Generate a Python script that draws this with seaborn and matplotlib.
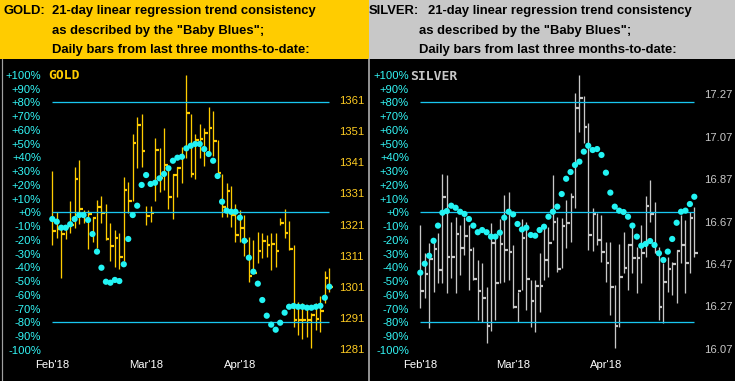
import numpy as np
import pandas as pd
import matplotlib
matplotlib.use("Agg")
import matplotlib.pyplot as plt
import seaborn as sns

# ---------------- data ----------------
months = ["Feb'18", "Mar'18", "Apr'18"]
month_idx = [0, 21, 42]
pct_ticks = list(range(-100, 101, 10))
band_levels = [80, 0, -80]
gold_price_ticks = [1281, 1291, 1301, 1311, 1321, 1331, 1341, 1351, 1361]
silver_price_ticks = [16.07, 16.27, 16.47, 16.67, 16.87, 17.07, 17.27]

gold_high = [1338.2, 1325.0, 1320.9, 1320.9, 1328.6, 1339.4, 1341.7, 1325.7, 1325.7, 1323.4,
             1328.9, 1330.2, 1327.6, 1321.5, 1319.3, 1318.2, 1336.4, 1334.8, 1350.1, 1355.4,
             1356.5, 1327.1, 1327.1, 1348.7, 1345.5, 1351.9, 1339.8, 1337.2, 1339.6, 1345.8,
             1369.0, 1356.5, 1350.1, 1353.3, 1351.9, 1358.7, 1357.6, 1348.2, 1337.2, 1334.3,
             1333.4, 1327.6, 1325.7, 1324.1, 1317.1, 1316.0, 1318.5, 1318.2, 1317.7, 1318.2,
             1318.2, 1323.0, 1326.0, 1322.2, 1314.4, 1296.2, 1295.9, 1294.1, 1292.5, 1295.7,
             1298.1, 1306.1, 1307.0]
gold_low = [1314.4, 1316.7, 1303.8, 1316.4, 1318.3, 1319.9, 1321.2, 1321.5, 1313.1, 1315.5,
            1313.4, 1321.4, 1316.0, 1309.4, 1307.5, 1306.6, 1309.4, 1324.7, 1328.7, 1339.1,
            1339.4, 1320.9, 1321.8, 1328.7, 1331.5, 1332.1, 1325.9, 1322.7, 1329.9, 1334.3,
            1342.3, 1336.4, 1335.5, 1342.5, 1339.9, 1344.7, 1343.0, 1337.0, 1323.5, 1323.5,
            1320.1, 1315.5, 1315.5, 1310.9, 1302.5, 1305.4, 1308.6, 1310.2, 1310.7, 1306.4,
            1307.5, 1320.9, 1316.6, 1312.8, 1288.2, 1285.5, 1284.2, 1285.0, 1281.3, 1287.1,
            1286.6, 1295.7, 1299.5]
gold_close = [1319.0, 1319.6, 1318.0, 1320.1, 1320.9, 1335.5, 1326.0, 1322.5, 1324.3, 1323.2,
              1326.7, 1324.8, 1316.4, 1314.1, 1316.6, 1310.7, 1332.1, 1328.7, 1347.1, 1353.0,
              1344.6, 1323.8, 1324.8, 1344.9, 1336.0, 1340.1, 1329.8, 1336.9, 1339.3, 1342.8,
              1356.7, 1337.2, 1348.2, 1348.5, 1350.3, 1352.1, 1347.9, 1337.4, 1326.5, 1331.9,
              1324.1, 1317.7, 1319.9, 1315.8, 1304.5, 1305.6, 1312.6, 1315.8, 1314.4, 1314.8,
              1312.6, 1321.6, 1318.2, 1313.1, 1290.4, 1290.4, 1290.2, 1290.4, 1292.0, 1290.6,
              1293.3, 1303.9, 1301.1]
gold_blues = [-4.9, -6.8, -11.2, -11.2, -8.7, -4.9, -2.0, -2.0, -5.6, -15.8,
              -28.6, -40.3, -50.5, -51.2, -49.2, -50.0, -37.8, -19.4, -2.0, 4.8,
              19.9, 27.1, 20.6, 21.5, 24.7, 27.9, 32.0, 37.5, 39.7, 40.4,
              46.5, 48.4, 49.7, 49.7, 46.0, 42.4, 37.5, 26.4, 7.7, 1.2,
              0.4, 0.4, -3.9, -20.7, -33.0, -43.2, -51.9, -63.8, -75.2, -81.7,
              -85.4, -80.3, -73.0, -68.7, -68.1, -68.7, -68.7, -69.4, -69.4, -68.7,
              -68.0, -62.1, -54.1]

silver_high = [16.653, 16.521, 16.567, 16.583, 16.617, 16.894, 16.889, 16.668, 16.693, 16.653,
               16.693, 16.653, 16.551, 16.488, 16.473, 16.362, 16.664, 16.598, 16.680, 16.795,
               16.811, 16.559, 16.339, 16.682, 16.669, 16.394, 16.394, 16.520, 16.645, 16.645,
               16.889, 16.693, 16.685, 16.771, 16.803, 17.275, 17.361, 17.262, 17.133, 16.732,
               16.712, 16.701, 16.575, 16.575, 16.370, 16.564, 16.619, 16.564, 16.645, 16.551,
               16.653, 16.790, 16.866, 16.761, 16.551, 16.473, 16.504, 16.480, 16.536, 16.701,
               16.677, 16.716, 16.740]
silver_low = [16.261, 16.309, 16.166, 16.339, 16.378, 16.380, 16.333, 16.402, 16.331, 16.418,
              16.512, 16.347, 16.394, 16.205, 16.197, 16.098, 16.155, 16.205, 16.378, 16.385,
              16.394, 16.262, 16.197, 16.347, 16.253, 16.174, 16.150, 16.245, 16.394, 16.410,
              16.583, 16.433, 16.449, 16.544, 16.575, 16.732, 17.094, 17.042, 16.536, 16.532,
              16.559, 16.479, 16.386, 16.229, 16.072, 16.174, 16.426, 16.347, 16.426, 16.334,
              16.378, 16.504, 16.669, 16.520, 16.205, 16.190, 16.339, 16.323, 16.284, 16.474,
              16.331, 16.426, 16.504]
silver_close = [16.344, 16.422, 16.492, 16.539, 16.441, 16.784, 16.504, 16.503, 16.610, 16.544,
                16.602, 16.536, 16.397, 16.342, 16.311, 16.177, 16.570, 16.378, 16.562, 16.536,
                16.528, 16.267, 16.342, 16.591, 16.397, 16.295, 16.367, 16.367, 16.488, 16.570,
                16.669, 16.446, 16.649, 16.664, 16.787, 17.207, 17.254, 17.117, 16.606, 16.704,
                16.583, 16.528, 16.476, 16.360, 16.177, 16.407, 16.452, 16.559, 16.496, 16.499,
                16.520, 16.745, 16.704, 16.525, 16.268, 16.386, 16.446, 16.468, 16.532, 16.559,
                16.473, 16.688, 16.523]
silver_blues = [-43.9, -37.4, -31.6, -20.7, -9.7, -0.3, 0.9, 4.8, 3.3, 0.4,
                -1.2, -4.9, -9.7, -14.5, -12.9, -14.5, -17.7, -17.7, -14.8, -3.9,
                0.4, -1.5, -8.5, -12.5, -11.2, -16.5, -17.0, -12.9, -10.5, -3.2,
                0.4, 4.1, 13.3, 24.4, 29.3, 34.4, 36.8, 44.1, 48.4, 45.3,
                46.0, 41.7, 28.8, 14.3, 4.1, 1.2, 0.2, -3.2, -9.7, -17.7,
                -24.3, -23.0, -20.9, -23.8, -29.8, -34.7, -28.6, -19.4, -7.6, 0.4,
                1.2, 6.0, 11.3]

# ---------------- style ----------------
W, H = 735, 381
DPI = 100
sns.set_theme(style="dark")
plt.rcParams["font.family"] = ["Liberation Sans", "DejaVu Sans"]
PT = 72.0 / DPI  # points per pixel

BLACK = "#000000"
CYAN_LINE = "#19c6f0"
CYAN_DOT = "#22f4f4"
CYAN_TXT = "#33f6f6"
GOLD = "#ffcc00"
GOLD_TXT = "#ffcc22"
SILVER = "#c8c8c8"
TICK_FS = 11.3 * PT

fig = plt.figure(figsize=(W / DPI, H / DPI), dpi=DPI, facecolor=BLACK)


def px_rect(x0, y0, x1, y1):
    return [x0 / W, 1 - y1 / H, (x1 - x0) / W, (y1 - y0) / H]


def fx(x):
    return x / W


def fy(y):
    return 1 - y / H


def panel(ax_px, xlim, high, low, close, blues, price_lim, price_ticks, price_fmt,
          bar_color, price_color, name, name_color, name_xy):
    ax = fig.add_axes(px_rect(*ax_px))
    ax.set_facecolor(BLACK)
    idx = np.arange(len(close))
    df = pd.DataFrame({"i": idx, "high": high, "low": low, "close": close, "blues": blues})

    # price bars (high-low with close tick)
    ax.vlines(df["i"], df["low"], df["high"], color=bar_color, lw=1.3 * PT, zorder=2)
    ax.hlines(df["close"], df["i"], df["i"] + 0.8, color=bar_color, lw=2.2 * PT, zorder=2)
    ax.set_ylim(*price_lim)
    ax.set_xlim(*xlim)
    ax.set_xticks(month_idx)
    ax.set_xticklabels(months, color="white", fontsize=TICK_FS)
    ax.tick_params(axis="x", length=0, pad=4 * PT)
    ax.grid(False)
    for s in ax.spines.values():
        s.set_visible(False)

    ax2 = ax.twinx()
    # price axis on the right, percent axis on the left
    ax.yaxis.tick_right()
    ax.set_yticks(price_ticks)
    ax.set_yticklabels([price_fmt(v) for v in price_ticks], color=price_color,
                       fontsize=TICK_FS)
    ax.tick_params(axis="y", length=0, pad=3 * PT, left=False, labelleft=False,
                   right=False, labelright=True)

    ax2.set_ylim((212.3 - ax_px[3]) / 1.375, (212.3 - ax_px[1]) / 1.375)
    ax2.set_xlim(*xlim)
    ax2.yaxis.tick_left()
    ax2.set_yticks(pct_ticks)
    ax2.set_yticklabels([("+%d%%" % v) if v >= 0 else ("%d%%" % v) for v in pct_ticks],
                        color=CYAN_TXT, fontsize=TICK_FS)
    ax2.tick_params(axis="y", length=0, pad=3 * PT, left=False, labelleft=True,
                    right=False, labelright=False)
    ax2.grid(False)
    for s in ax2.spines.values():
        s.set_visible(False)
    ax2.hlines(band_levels, 0, len(close) - 1, color=CYAN_LINE, lw=1.3 * PT, zorder=1)
    sns.scatterplot(data=df, x="i", y="blues", ax=ax2, color=CYAN_DOT, s=20,
                    marker="o", edgecolor="none", legend=False, zorder=3)
    ax2.set_xlabel("")
    ax2.set_ylabel("")
    ax.set_xlabel("")
    ax.set_ylabel("")
    fig.text(fx(name_xy[0]), fy(name_xy[1]), name, color=name_color,
             fontsize=13 * PT, fontweight="bold", family=["DejaVu Sans Mono"],
             ha="left", va="center")
    return ax, ax2


# gold panel
panel((44, 64, 336, 356), (-1.858, 63.5), gold_high, gold_low, gold_close, gold_blues,
      (1278.79, 1372.56), gold_price_ticks, lambda v: "%d" % v,
      GOLD, GOLD_TXT, "GOLD", GOLD, (48, 75.5))

# silver panel
panel((412, 64, 701, 356), (-1.878, 63.516), silver_high, silver_low, silver_close,
      silver_blues, (16.036, 17.413), silver_price_ticks, lambda v: "%.2f" % v,
      SILVER, SILVER, "SILVER", SILVER, (410, 76))

# header bands
fig.patches.append(plt.Rectangle((0, fy(59)), fx(368.5), 59 / H, transform=fig.transFigure,
                                 facecolor=GOLD, edgecolor="none", zorder=0))
fig.patches.append(plt.Rectangle((fx(368.5), fy(59)), fx(W - 368.5), 59 / H,
                                 transform=fig.transFigure, facecolor=SILVER,
                                 edgecolor="none", zorder=0))
# panel borders
fig.add_artist(plt.Line2D([fx(368.5), fx(368.5)], [0, fy(59)], transform=fig.transFigure,
                          color="#c0c0c0", lw=1.5 * PT))
fig.add_artist(plt.Line2D([fx(1.5), fx(1.5)], [0, fy(59)], transform=fig.transFigure,
                          color="#a0a0a0", lw=1.2 * PT))

hdr = dict(color="black", fontsize=13.0 * PT, fontweight="bold", ha="left", va="center")
lines = ["21-day linear regression trend consistency",
         'as described by the "Baby Blues";',
         "Daily bars from last three months-to-date:"]
fig.text(fx(4), fy(11), "GOLD:", **hdr)
fig.text(fx(52), fy(11), lines[0], **hdr)
fig.text(fx(52), fy(31), lines[1], **hdr)
fig.text(fx(52), fy(50), lines[2], **hdr)
fig.text(fx(369), fy(11), "SILVER:", **hdr)
fig.text(fx(428), fy(11), lines[0], **hdr)
fig.text(fx(419), fy(31), lines[1], **hdr)
fig.text(fx(419), fy(50), lines[2], **hdr)

fig.savefig("out.png", dpi=DPI, facecolor=BLACK)
